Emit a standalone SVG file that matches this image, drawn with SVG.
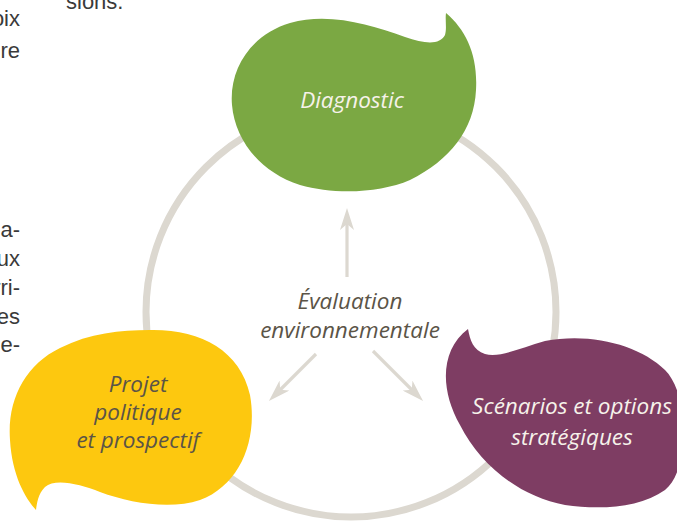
<svg xmlns="http://www.w3.org/2000/svg" width="677" height="522" viewBox="0 0 677 522">
<style>
.page{font-family:"Liberation Sans",Arial,sans-serif;font-size:22px;fill:#3a3a3a}
.lbl{font-family:"Open Sans","Noto Sans",sans-serif;font-style:italic;font-size:22.5px;text-anchor:middle}
.light{fill:#f6f2ea}
.dark{fill:#5b5447}
.conn{stroke:#dcd8d0;stroke-width:3.2;fill:none}
</style>
<defs>
<marker id="ah" viewBox="0 0 22 14" markerWidth="22" markerHeight="14" refX="12" refY="7" orient="auto" markerUnits="userSpaceOnUse">
<path d="M0,0 L22,7 L0,14 L6,7 Z" fill="#dcd8d0"/>
</marker>
</defs>
<rect width="677" height="522" fill="#ffffff"/>
<g id="page-text">
<text class="page" x="66" y="9">sions.</text>
<text class="page" x="20" y="26" text-anchor="end">oix</text>
<text class="page" x="20" y="58" text-anchor="end">re</text>
<text class="page" x="20" y="237" text-anchor="end">a-</text>
<text class="page" x="20" y="266" text-anchor="end">ux</text>
<text class="page" x="20" y="295" text-anchor="end">rri-</text>
<text class="page" x="20" y="324" text-anchor="end">es</text>
<text class="page" x="20" y="352" text-anchor="end">e-</text>
</g>
<g id="cycle-ring">
<circle cx="351" cy="312" r="205" fill="none" stroke="#dcd8d0" stroke-width="7"/>
</g>
<g id="connectors">
<line class="conn" x1="347" y1="277" x2="347" y2="218" marker-end="url(#ah)"/>
<line class="conn" x1="316" y1="354" x2="276" y2="394" marker-end="url(#ah)"/>
<line class="conn" x1="373" y1="351" x2="416" y2="394" marker-end="url(#ah)"/>
</g>
<g id="node-diagnostic">
<path d="M446,13 C466,30 478,55 476,90 C474,130 450,160 410,180 C380,193 335,195 300,185 C260,172 235,140 232,105 C229,70 250,35 290,23 C330,12 370,25 405,37 C425,44 440,45 445,35 C447,28 445,20 446,13 Z" fill="#7ba843"/>
<text class="lbl light" x="352" y="108">Diagnostic</text>
</g>
<g id="node-projet">
<path d="M150,330 C200,329 240,350 250,395 C258,440 240,485 200,500 C170,510 130,503 100,492 C80,484 55,478 45,487 C38,494 37,503 36,510 C25,498 12,475 10,440 C7,400 25,365 60,348 C90,333 120,330 150,330 Z" fill="#fdc80f"/>
<text class="lbl dark" x="138" y="392">Projet</text>
<text class="lbl dark" x="138" y="420">politique</text>
<text class="lbl dark" x="138" y="448">et prospectif</text>
</g>
<g id="node-scenarios">
<path d="M468,329 C470,340 473,350 485,354 C500,358 520,348 545,341 C590,332 640,345 665,370 C690,395 690,470 665,490 C640,508 600,510 565,505 C520,497 480,465 460,425 C440,390 440,350 468,329 Z" fill="#7e3d63"/>
<text class="lbl light" x="572" y="414">Scénarios et options</text>
<text class="lbl light" x="572" y="445">stratégiques</text>
</g>
<g id="node-evaluation">
<text class="lbl dark" x="350" y="309">Évaluation</text>
<text class="lbl dark" x="350" y="338">environnementale</text>
</g>
</svg>
